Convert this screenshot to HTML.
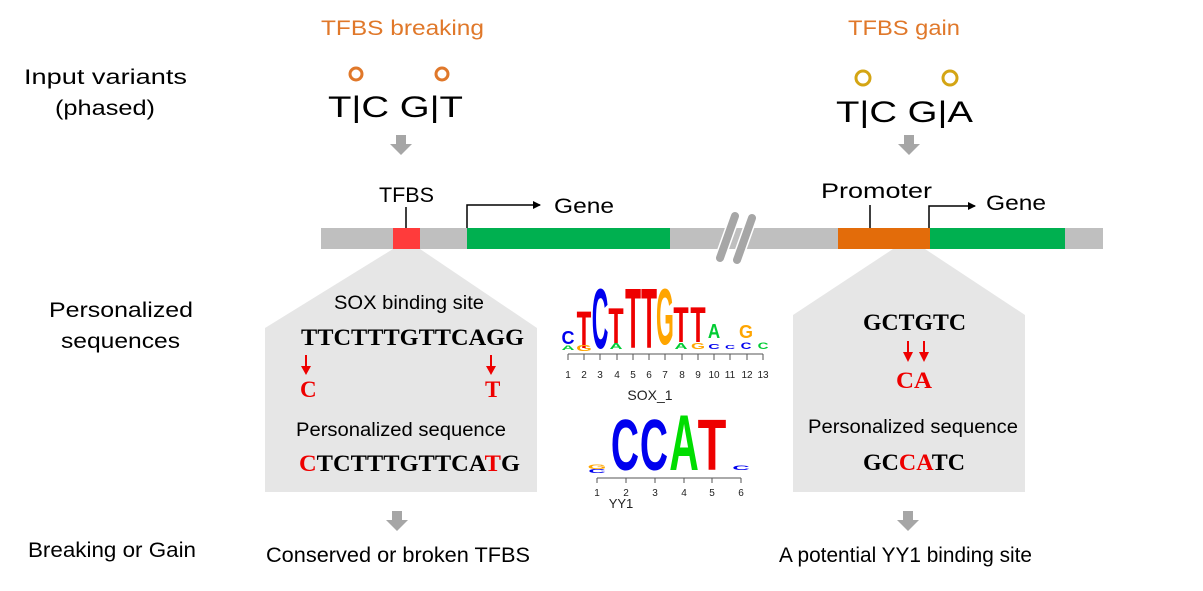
<!DOCTYPE html>
<html><head><meta charset="utf-8"><style>
html,body{margin:0;padding:0;background:#fff;}
svg{display:block;}
.s{font-family:"Liberation Sans",sans-serif;}
.t{font-family:"Liberation Serif",serif;font-weight:bold;}
</style></head><body>
<svg width="1203" height="591" viewBox="0 0 1203 591" xmlns="http://www.w3.org/2000/svg">
<defs>
<marker id="ah" markerWidth="8" markerHeight="8" refX="7" refY="4" orient="auto" markerUnits="userSpaceOnUse">
<path d="M0,0 L8,4 L0,8 z" fill="#000"/></marker>
</defs>
<g class="s" fill="#000" font-size="21">
<text x="24" y="84" textLength="163" lengthAdjust="spacingAndGlyphs">Input variants</text>
<text x="55" y="115" textLength="100" lengthAdjust="spacingAndGlyphs">(phased)</text>
<text x="49" y="317" textLength="144" lengthAdjust="spacingAndGlyphs">Personalized</text>
<text x="61" y="348" textLength="119" lengthAdjust="spacingAndGlyphs">sequences</text>
<text x="28" y="557" textLength="168" lengthAdjust="spacingAndGlyphs">Breaking or Gain</text>
</g>
<g class="s" fill="#E0782A" font-size="21">
<text x="321" y="35" textLength="163" lengthAdjust="spacingAndGlyphs">TFBS breaking</text>
<text x="848" y="35" textLength="112" lengthAdjust="spacingAndGlyphs">TFBS gain</text>
</g>
<circle cx="356" cy="74" r="6" fill="none" stroke="#E0782A" stroke-width="3"/>
<circle cx="442" cy="74" r="6" fill="none" stroke="#E0782A" stroke-width="3"/>
<circle cx="863" cy="78" r="7" fill="none" stroke="#D4A514" stroke-width="3"/>
<circle cx="950" cy="78" r="7" fill="none" stroke="#D4A514" stroke-width="3"/>
<g class="s" fill="#000" font-size="30">
<text x="328" y="117" textLength="135" lengthAdjust="spacingAndGlyphs">T|C  G|T</text>
<text x="836" y="122" textLength="137" lengthAdjust="spacingAndGlyphs">T|C  G|A</text>
</g>
<g fill="#A6A6A6">
<path d="M396,135 h10 v9 h6 l-11,11 l-11,-11 h6 z"/>
<path d="M904,135 h10 v9 h6 l-11,11 l-11,-11 h6 z"/>
<path d="M392,511 h10 v9 h6 l-11,11 l-11,-11 h6 z"/>
<path d="M903,511 h10 v9 h6 l-11,11 l-11,-11 h6 z"/>
</g>
<path d="M393,249 L420,249 L537,328 L537,492 L265,492 L265,328 Z" fill="#E6E6E6"/>
<path d="M893,249 L925,249 L1025,315 L1025,492 L793,492 L793,315 Z" fill="#E6E6E6"/>
<rect x="321" y="228" width="782" height="21" fill="#BFBFBF"/>
<rect x="393" y="228" width="27" height="21" fill="#FF3B3B"/>
<rect x="467" y="228" width="203" height="21" fill="#00B050"/>
<rect x="838" y="228" width="92" height="21" fill="#E36C0A"/>
<rect x="930" y="228" width="135" height="21" fill="#00B050"/>
<g stroke="#fff" stroke-width="11" stroke-linecap="round">
<line x1="720" y1="258" x2="735" y2="216"/><line x1="737" y1="260" x2="752" y2="218"/>
</g>
<g stroke="#A6A6A6" stroke-width="8" stroke-linecap="round">
<line x1="720" y1="258" x2="735" y2="216"/><line x1="737" y1="260" x2="752" y2="218"/>
</g>
<g stroke="#000" stroke-width="1.5" fill="none">
<line x1="406" y1="228" x2="406" y2="207"/>
<polyline points="467,228 467,205 540,205" marker-end="url(#ah)"/>
<line x1="870" y1="228" x2="870" y2="205"/>
<polyline points="929,228 929,206 975,206" marker-end="url(#ah)"/>
</g>
<g class="s" fill="#000" font-size="21">
<text x="379" y="202" textLength="55" lengthAdjust="spacingAndGlyphs">TFBS</text>
<text x="554" y="213" textLength="60" lengthAdjust="spacingAndGlyphs">Gene</text>
<text x="821" y="198" textLength="111" lengthAdjust="spacingAndGlyphs">Promoter</text>
<text x="986" y="210" textLength="60" lengthAdjust="spacingAndGlyphs">Gene</text>
<text x="266" y="562" textLength="264" lengthAdjust="spacingAndGlyphs">Conserved or broken TFBS</text>
<text x="779" y="562" textLength="253" lengthAdjust="spacingAndGlyphs">A potential YY1 binding site</text>
</g>
<g class="s" font-size="19" fill="#000">
<text x="334" y="309" textLength="150" lengthAdjust="spacingAndGlyphs">SOX binding site</text>
<text x="296" y="436" textLength="210" lengthAdjust="spacingAndGlyphs">Personalized sequence</text>
<text x="808" y="433" textLength="210" lengthAdjust="spacingAndGlyphs">Personalized sequence</text>
</g>
<g class="t" font-size="23" fill="#000">
<text x="301" y="345" textLength="223" lengthAdjust="spacingAndGlyphs">TTCTTTGTTCAGG</text>
<text x="299" y="471" textLength="221" lengthAdjust="spacingAndGlyphs"><tspan fill="#E00">C</tspan>TCTTTGTTCA<tspan fill="#E00">T</tspan>G</text>
<text x="300" y="397" fill="#E00">C</text>
<text x="485" y="397" fill="#E00">T</text>
<text x="863" y="330" textLength="103" lengthAdjust="spacingAndGlyphs">GCTGTC</text>
<text x="896" y="388" fill="#E00" textLength="36" lengthAdjust="spacingAndGlyphs">CA</text>
<text x="863" y="470" textLength="102" lengthAdjust="spacingAndGlyphs">GC<tspan fill="#E00">CA</tspan>TC</text>
</g>
<g stroke="#E00" stroke-width="2" fill="#E00">
<line x1="306" y1="355" x2="306" y2="368"/><path d="M301,366 L311,366 L306,375 z" stroke="none"/>
<line x1="491" y1="355" x2="491" y2="368"/><path d="M486,366 L496,366 L491,375 z" stroke="none"/>
<line x1="908" y1="341" x2="908" y2="354"/><path d="M903,352 L913,352 L908,362 z" stroke="none"/>
<line x1="924" y1="341" x2="924" y2="354"/><path d="M919,352 L929,352 L924,362 z" stroke="none"/>
</g>
<g class="s" font-weight="bold" font-size="10" text-anchor="middle">
<text transform="translate(568,344) scale(1.8,1.8)" fill="#0000EE">C</text>
<text transform="translate(568,350) scale(1.8,0.6)" fill="#00CC33">A</text>
<text transform="translate(584,348) scale(2.4,5.3)" fill="#EE0000">T</text>
<text transform="translate(584,351) scale(2.0,0.8)" fill="#FFA500">G</text>
<text transform="translate(600,348) scale(2.3,8.5)" fill="#0000EE">C</text>
<text transform="translate(616,343) scale(2.5,5)" fill="#EE0000">T</text>
<text transform="translate(616,349) scale(1.8,0.8)" fill="#00CC33">A</text>
<text transform="translate(633,348) scale(2.6,8.5)" fill="#EE0000">T</text>
<text transform="translate(649,348) scale(2.6,8.5)" fill="#EE0000">T</text>
<text transform="translate(665,344) scale(2.3,8)" fill="#FFA500">G</text>
<text transform="translate(681,342) scale(2.5,5)" fill="#EE0000">T</text>
<text transform="translate(681,349) scale(1.8,0.8)" fill="#00CC33">A</text>
<text transform="translate(698,342) scale(2.5,5)" fill="#EE0000">T</text>
<text transform="translate(698,349) scale(1.8,0.8)" fill="#FFA500">G</text>
<text transform="translate(714,338) scale(1.7,2)" fill="#00CC33">A</text>
<text transform="translate(714,349) scale(1.6,0.7)" fill="#0000EE">C</text>
<text transform="translate(730,349) scale(1.4,0.5)" fill="#0000EE">C</text>
<text transform="translate(746,338) scale(1.8,1.8)" fill="#FFA500">G</text>
<text transform="translate(746,349) scale(1.5,0.9)" fill="#0000EE">C</text>
<text transform="translate(763,349) scale(1.5,0.9)" fill="#00CC33">C</text>
</g>
<g stroke="#555" stroke-width="1">
<line x1="568" y1="354" x2="763" y2="354"/>
<path d="M568,354v6M584,354v6M600,354v6M617,354v6M633,354v6M649,354v6M665,354v6M682,354v6M698,354v6M714,354v6M730,354v6M747,354v6M763,354v6" fill="none"/>
</g>
<g class="s" font-size="10" fill="#222" text-anchor="middle">
<text x="568" y="378">1</text><text x="584" y="378">2</text><text x="600" y="378">3</text><text x="617" y="378">4</text><text x="633" y="378">5</text><text x="649" y="378">6</text><text x="665" y="378">7</text><text x="682" y="378">8</text><text x="698" y="378">9</text><text x="714" y="378">10</text><text x="730" y="378">11</text><text x="747" y="378">12</text><text x="763" y="378">13</text>
<text x="650" y="400" font-size="14">SOX_1</text>
</g>
<g class="s" font-weight="bold" font-size="10" text-anchor="middle">
<text transform="translate(625,470) scale(3.9,7.2)" fill="#0000EE">C</text>
<text transform="translate(654,470) scale(3.9,7.2)" fill="#0000EE">C</text>
<text transform="translate(684,470) scale(4.1,7.9)" fill="#00DD00">A</text>
<text transform="translate(712,470) scale(4.7,7.2)" fill="#EE0000">T</text>
<text transform="translate(597,469) scale(2.4,0.6)" fill="#FFA500">G</text>
<text transform="translate(597,473) scale(2.4,0.5)" fill="#0000EE">C</text>
<text transform="translate(741,470) scale(2.4,0.6)" fill="#0000EE">C</text>
</g>
<g stroke="#555" stroke-width="1" fill="none">
<line x1="597" y1="478" x2="741" y2="478"/>
<path d="M597,478v5M626,478v5M655,478v5M684,478v5M712,478v5M741,478v5"/>
</g>
<g class="s" font-size="10" fill="#222" text-anchor="middle">
<text x="597" y="496">1</text><text x="626" y="496">2</text><text x="655" y="496">3</text><text x="684" y="496">4</text><text x="712" y="496">5</text><text x="741" y="496">6</text>
<text x="621" y="508" font-size="13">YY1</text>
</g>
</svg>
</body></html>
